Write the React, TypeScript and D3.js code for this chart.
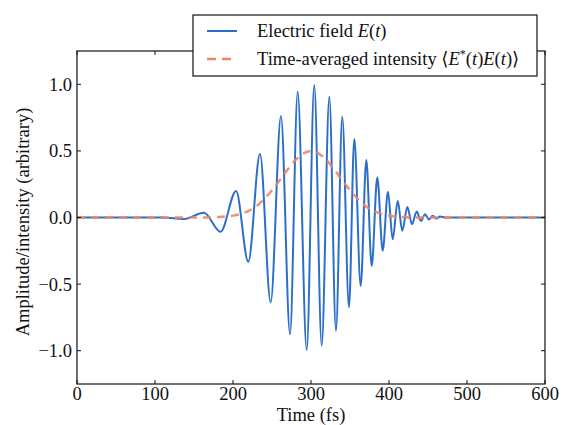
import React from "react";
import * as d3 from "d3";

// Electric field: extrema (time in fs, amplitude)
const fieldTimes = [0, 110, 137, 162.8, 184, 204, 219.6, 234.6, 248.3, 261.5, 273.1, 282.9, 294.5, 304.2, 313.7, 323.5, 332, 340.1, 348.7, 355.5, 363.7, 370.9, 377.8, 385, 391.9, 398.7, 404.7, 411.2, 417, 423.5, 429.5, 435.5, 441, 446.2, 451.3, 456, 461, 465.4, 472, 600];
const fieldValues = [0, 0, -0.012, 0.036, -0.107, 0.199, -0.332, 0.477, -0.637, 0.762, -0.877, 0.944, -0.995, 0.995, -0.962, 0.907, -0.85, 0.757, -0.674, 0.589, -0.514, 0.432, -0.364, 0.302, -0.249, 0.194, -0.164, 0.124, -0.099, 0.078, -0.05, 0.045, -0.026, 0.024, -0.015, 0.013, -0.009, 0.007, 0, 0];

// Time-averaged intensity
const intensityTimes = [0, 170, 180, 190, 200, 210, 220, 230, 240, 250, 260, 270, 280, 290, 300, 310, 320, 330, 340, 350, 360, 370, 380, 390, 400, 410, 420, 430, 600];
const intensityValues = [0, 0, 0.003, 0.007, 0.014, 0.027, 0.05, 0.085, 0.14, 0.205, 0.28, 0.36, 0.43, 0.48, 0.5, 0.48, 0.43, 0.36, 0.28, 0.205, 0.14, 0.085, 0.05, 0.027, 0.014, 0.007, 0.003, 0, 0];

const xTicks = [0, 100, 200, 300, 400, 500, 600];
const yTicks = [-1.0, -0.5, 0.0, 0.5, 1.0];

const FONT = "'Liberation Serif', 'DejaVu Serif', serif";
const BLUE = "#2c6fcb";
const ORANGE = "#f08466";
const FS = 18.5;

export default function App() {
  const W = 562, H = 425;
  const left = 77, right = 545, top = 51, bottom = 384;
  const x = d3.scaleLinear().domain([0, 600]).range([left, right]);
  const y = d3.scaleLinear().domain([-1.25, 1.25]).range([bottom, top]);
  const line = d3
    .line<[number, number]>()
    .x((d) => x(d[0]))
    .y((d) => y(d[1]))
    .curve(d3.curveMonotoneX);
  const fieldData: [number, number][] = fieldTimes.map((t, i) => [t, fieldValues[i]]);
  const intData: [number, number][] = intensityTimes.map((t, i) => [t, intensityValues[i]]);
  const fmt = d3.format(".1f");
  const tickLen = 4;

  return (
    <svg
      width={W}
      height={H}
      style={{ position: "absolute", left: 0, top: 0, background: "#fff" }}
      fontFamily={FONT}
    >
      <defs>
        <clipPath id="plotclip">
          <rect x={left} y={top} width={right - left} height={bottom - top} />
        </clipPath>
      </defs>
      <rect x={0} y={0} width={W} height={H} fill="#fff" />
      <g clipPath="url(#plotclip)">
        <path d={line(fieldData) || ""} fill="none" stroke={BLUE} strokeWidth={2} />
        <path
          d={line(intData) || ""}
          fill="none"
          stroke={ORANGE}
          strokeWidth={2.5}
          strokeDasharray="8,6"
          opacity={0.9}
        />
      </g>
      {/* frame */}
      <rect x={left} y={top} width={right - left} height={bottom - top} fill="none" stroke="#111" strokeWidth={1.2} />
      {/* x ticks */}
      {xTicks.map((t) => (
        <g key={"xt" + t}>
          <line x1={x(t)} x2={x(t)} y1={bottom} y2={bottom - tickLen} stroke="#111" />
          <line x1={x(t)} x2={x(t)} y1={top} y2={top + tickLen} stroke="#111" />
          <text x={x(t)} y={400} fontSize={FS} textAnchor="middle" fill="#111">
            {String(t)}
          </text>
        </g>
      ))}
      {/* y ticks */}
      {yTicks.map((v) => (
        <g key={"yt" + v}>
          <line x1={left} x2={left + tickLen} y1={y(v)} y2={y(v)} stroke="#111" />
          <line x1={right} x2={right - tickLen} y1={y(v)} y2={y(v)} stroke="#111" />
          <text x={72} y={y(v)} dy="0.35em" fontSize={FS} textAnchor="end" fill="#111">
            {fmt(v)}
          </text>
        </g>
      ))}
      <text x={(left + right) / 2} y={421} fontSize={FS} textAnchor="middle" fill="#111">
        Time (fs)
      </text>
      <text
        transform={`translate(29,222) rotate(-90)`}
        fontSize={FS}
        textAnchor="middle"
        fill="#111"
      >
        Amplitude/intensity (arbitrary)
      </text>
      {/* legend */}
      <g>
        <rect x={193} y={15} width={344} height={61} fill="#fff" stroke="#111" strokeWidth={1.2} />
        <line x1={207} x2={237} y1={31} y2={31} stroke={BLUE} strokeWidth={2} />
        <text x={257} y={37} fontSize={FS} fill="#111">
          Electric field <tspan fontStyle="italic">E</tspan>(<tspan fontStyle="italic">t</tspan>)
        </text>
        <line x1={207} x2={237} y1={59} y2={59} stroke={ORANGE} strokeWidth={2.5} strokeDasharray="9,6" />
        <text x={257} y={65} fontSize={FS} fill="#111">
          Time-averaged intensity ⟨<tspan fontStyle="italic">E</tspan>
          <tspan fontSize={12} dy={-7}>*</tspan>
          <tspan dy={7}>(</tspan>
          <tspan fontStyle="italic">t</tspan>)<tspan fontStyle="italic">E</tspan>(<tspan fontStyle="italic">t</tspan>)⟩
        </text>
      </g>
    </svg>
  );
}
